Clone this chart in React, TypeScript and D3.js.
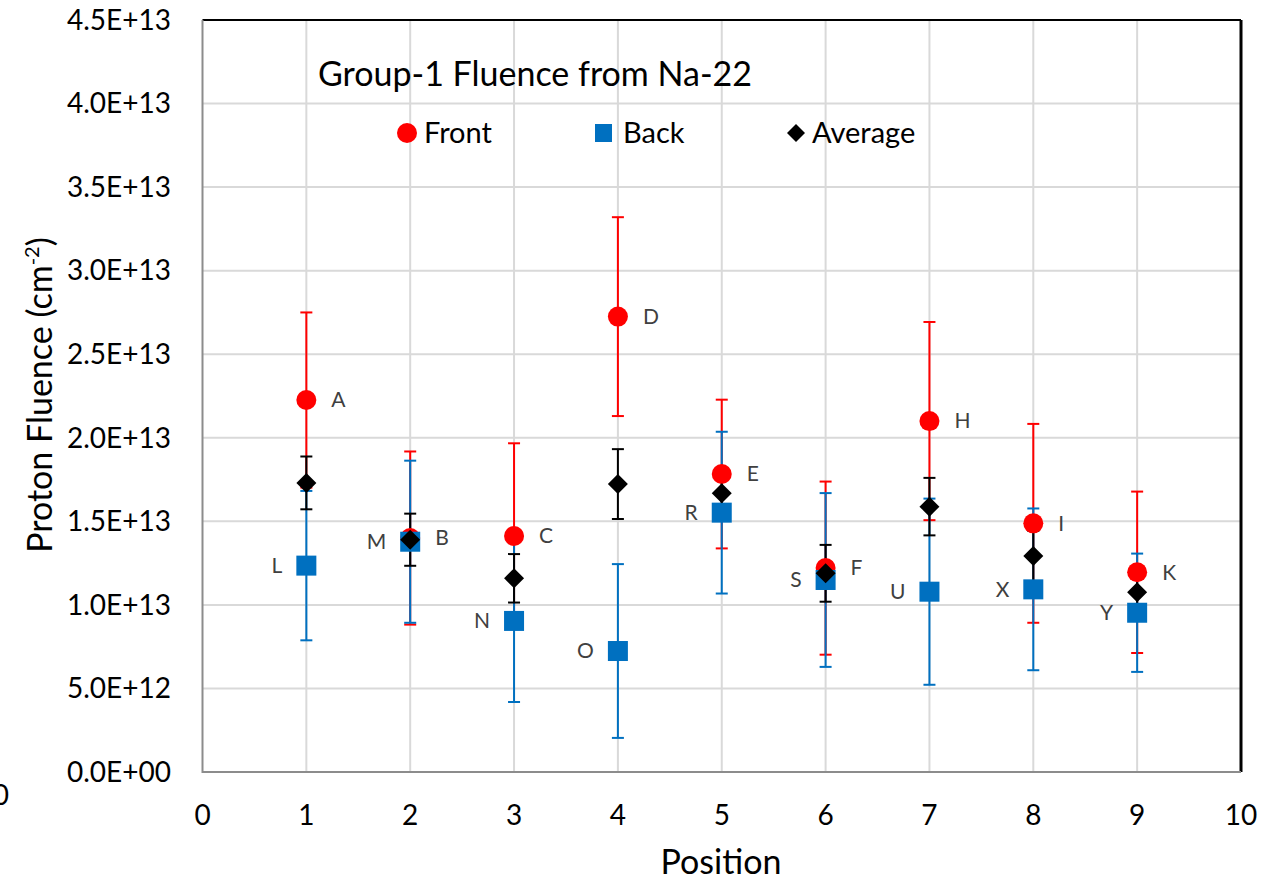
import React from 'react';
import * as d3 from 'd3';

// values in units of 1E+13 cm^-2
const positions = [1, 2, 3, 4, 5, 6, 7, 8, 9];
const front = [2.226, 1.4, 1.412, 2.725, 1.783, 1.22, 2.1, 1.488, 1.195];
const frontErr = [0.524, 0.518, 0.555, 0.595, 0.445, 0.518, 0.593, 0.595, 0.483];
const back = [1.235, 1.378, 0.904, 0.724, 1.552, 1.149, 1.079, 1.093, 0.953];
const backErr = [0.447, 0.485, 0.485, 0.52, 0.484, 0.52, 0.557, 0.484, 0.354];
const average = [1.73, 1.39, 1.159, 1.723, 1.668, 1.189, 1.588, 1.293, 1.075];
const averageErr = [0.158, 0.156, 0.145, 0.209, 0.09, 0.17, 0.172, 0.15, 0.1];
const frontLabels = ['A', 'B', 'C', 'D', 'E', 'F', 'H', 'I', 'K'];
const backLabels = ['L', 'M', 'N', 'O', 'R', 'S', 'U', 'X', 'Y'];
const yTicks = [0, 0.5, 1, 1.5, 2, 2.5, 3, 3.5, 4, 4.5];
const xTicks = [0, 1, 2, 3, 4, 5, 6, 7, 8, 9, 10];

const RED = '#FF0000';
const BLUE = '#0070C0';
const FONT = 'Lato, "Open Sans", sans-serif';

const fmt = (v: number) => {
	// Excel style 0.0E+00
	const n = v * 1e13;
	if (n === 0) return '0.0E+00';
	const e = Math.floor(Math.log10(n));
	const m = n / Math.pow(10, e);
	return `${m.toFixed(1)}E+${String(e).padStart(2, '0')}`;
};

export default function App() {
	const width = 1279;
	const height = 881;
	const left = 202.5;
	const right = 1241;
	const top = 20;
	const bottom = 772;

	const x = d3.scaleLinear().domain([0, 10]).range([left, right]);
	const y = d3.scaleLinear().domain([0, 4.5]).range([bottom, top]);

	const errBar = (vals: number[], errs: number[], color: string, key: string) =>
		positions.map((p, i) => {
			const cx = x(p);
			const y1 = y(vals[i] + errs[i]);
			const y2 = y(vals[i] - errs[i]);
			return (
				<g key={key + i} stroke={color} strokeWidth={2}>
					<line x1={cx} x2={cx} y1={y1} y2={y2} />
					<line x1={cx - 6} x2={cx + 6} y1={y1} y2={y1} />
					<line x1={cx - 6} x2={cx + 6} y1={y2} y2={y2} />
				</g>
			);
		});

	const diamond = (cx: number, cy: number, r: number) =>
		`M${cx},${cy - r}L${cx + r},${cy}L${cx},${cy + r}L${cx - r},${cy}Z`;

	return (
		<svg
			width={width}
			height={height}
			style={{ position: 'absolute', left: 0, top: 0, background: '#fff' }}
			fontFamily={FONT}
		>
			{/* gridlines */}
			{yTicks.slice(1).map(t => (
				<line key={'gy' + t} x1={left} x2={right} y1={y(t)} y2={y(t)} stroke="#d9d9d9" strokeWidth={2} />
			))}
			{xTicks.slice(1, -1).map(t => (
				<line key={'gx' + t} x1={x(t)} x2={x(t)} y1={top} y2={bottom} stroke="#d9d9d9" strokeWidth={2} />
			))}
			{/* plot frame */}
			<line x1={left} x2={right} y1={top} y2={top} stroke="#000" strokeWidth={2} />
			<line x1={right} x2={right} y1={top} y2={bottom} stroke="#000" strokeWidth={3} />
			<line x1={left} x2={left} y1={top} y2={bottom + 1} stroke="#8c8c8c" strokeWidth={2} />
			<line x1={left} x2={right} y1={bottom} y2={bottom} stroke="#8c8c8c" strokeWidth={2} />

			{/* tick labels */}
			{yTicks.map(t => (
				<text key={'ty' + t} x={171} y={y(t)} dy="0.35em" textAnchor="end" fontSize={28} fill="#000">
					{fmt(t)}
				</text>
			))}
			{xTicks.map(t => (
				<text key={'tx' + t} x={x(t)} y={815} dy="0.35em" textAnchor="middle" fontSize={28} fill="#000">
					{t}
				</text>
			))}
			<text x={9} y={795} dy="0.35em" textAnchor="end" fontSize={28} fill="#000">0</text>

			{/* axis titles */}
			<text x={721} y={862} dy="0.35em" textAnchor="middle" fontSize={34} fill="#000">Position</text>
			<text transform="translate(40,395) rotate(-90)" dy="0.35em" textAnchor="middle" fontSize={34} fill="#000">
				Proton Fluence (cm<tspan dy="-13" fontSize={20}>-2</tspan><tspan dy="13">)</tspan>
			</text>

			{/* chart title & legend */}
			<text x={318} y={74} dy="0.35em" fontSize={34} fill="#000">Group-1 Fluence from Na-22</text>
			<circle cx={407} cy={133} r={10} fill={RED} />
			<text x={424} y={133} dy="0.35em" fontSize={29} fill="#000">Front</text>
			<rect x={595} y={124} width={17} height={18} fill={BLUE} />
			<text x={623} y={133} dy="0.35em" fontSize={29} fill="#000">Back</text>
			<path d={diamond(796, 133, 9)} fill="#000" />
			<text x={812} y={133} dy="0.35em" fontSize={29} fill="#000">Average</text>

			{/* error bars */}
			{errBar(front, frontErr, RED, 'ef')}
			{errBar(back, backErr, BLUE, 'eb')}
			{errBar(average, averageErr, '#000', 'ea')}

			{/* markers */}
			{positions.map((p, i) => (
				<circle key={'mf' + i} cx={x(p)} cy={y(front[i])} r={10} fill={RED} />
			))}
			{positions.map((p, i) => (
				<rect key={'mb' + i} x={x(p) - 10} y={y(back[i]) - 10} width={20} height={20} fill={BLUE} />
			))}
			{positions.map((p, i) => (
				<path key={'ma' + i} d={diamond(x(p), y(average[i]), 10)} fill="#000" />
			))}

			{/* data labels */}
			{positions.map((p, i) => (
				<text key={'lf' + i} x={x(p) + 25} y={y(front[i])} dy="0.35em" fontSize={21} fill="#404040">
					{frontLabels[i]}
				</text>
			))}
			{positions.map((p, i) => (
				<text key={'lb' + i} x={x(p) - 24} y={y(back[i])} dy="0.35em" textAnchor="end" fontSize={21} fill="#404040">
					{backLabels[i]}
				</text>
			))}
		</svg>
	);
}
